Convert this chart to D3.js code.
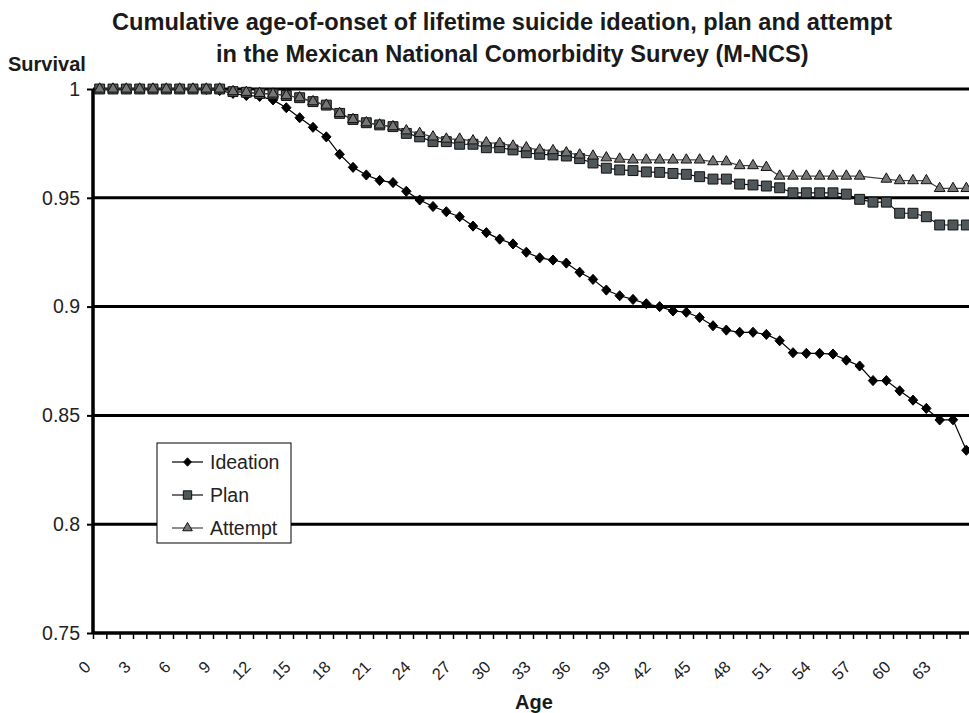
<!DOCTYPE html>
<html>
<head>
<meta charset="utf-8">
<script src="https://cdn.jsdelivr.net/npm/d3@7"></script>
<style>
  body { margin: 0; background: #fff; }
  svg { display: block; font-family: "Liberation Sans", Arial, sans-serif; }
</style>
</head>
<body>
<svg id="chart" width="969" height="713"></svg>
<script>
// ---- Data ----
const ages = [0,1,2,3,4,5,6,7,8,9,10,11,12,13,14,15,16,17,18,19,20,21,22,23,24,25,26,27,28,29,30,31,32,33,34,35,36,37,38,39,40,41,42,43,44,45,46,47,48,49,50,51,52,53,54,55,56,57,58,59,60,61,62,63,64,65];
const xTickLabels = [0,3,6,9,12,15,18,21,24,27,30,33,36,39,42,45,48,51,54,57,60,63];
const yTickValues = [0.75,0.8,0.85,0.9,0.95,1];
const ideation = [1,1,1,1,1,1,1,1,0.9998,0.9993,0.998,0.997,0.9966,0.995,0.9914,0.9868,0.9824,0.978,0.970,0.964,
  0.9605,0.958,0.957,0.953,0.949,0.946,0.9436,0.9413,0.937,0.934,0.931,0.9288,0.925,0.9224,0.9214,0.920,0.9158,0.9125,0.9076,0.905,
  0.9033,0.9013,0.900,0.898,0.8974,0.895,0.8912,0.8892,0.8882,0.8882,0.8872,0.8843,0.8788,0.8785,0.8785,0.8782,0.8754,0.8727,0.866,0.866,
  0.8613,0.857,0.8532,0.8479,0.848,0.834];
const plan = [1,1,1,1,1,1,1,1,1,1,0.9988,0.9985,0.998,0.9977,0.997,0.996,0.9942,0.9926,0.9888,0.986,
  0.9845,0.9835,0.9827,0.9796,0.978,0.9758,0.9758,0.9746,0.9746,0.973,0.973,0.972,0.9707,0.970,0.9697,0.9692,0.968,0.966,0.9636,0.9628,
  0.9625,0.9619,0.9617,0.9612,0.9608,0.9597,0.9586,0.9586,0.9563,0.9559,0.9554,0.9546,0.9523,0.9523,0.9523,0.9523,0.9517,0.9493,0.948,0.948,
  0.9429,0.9429,0.9413,0.9375,0.9375,0.9375];
const attempt = [1,1,1,1,1,1,1,1,1,1,0.9988,0.9985,0.998,0.9977,0.997,0.996,0.9942,0.9926,0.9888,0.986,
  0.9845,0.9835,0.9827,0.9808,0.9796,0.978,0.977,0.977,0.9762,0.9753,0.975,0.9738,0.973,0.972,0.9717,0.9707,0.9697,0.9692,0.9684,0.9678,
  0.9674,0.9674,0.9674,0.9674,0.9674,0.9674,0.9666,0.9666,0.9648,0.9648,0.964,0.96,0.96,0.96,0.96,0.96,0.96,0.96,null,0.9586,
  0.9579,0.9579,0.9579,0.9543,0.9543,0.9543];
const seriesNames = ["Ideation","Plan","Attempt"];
const titleLines = ["Cumulative age-of-onset of lifetime suicide ideation, plan and attempt",
                    "in the Mexican National Comorbidity Survey (M-NCS)"];

// ---- Layout ----
const svg = d3.select("#chart");
const pLeft = 93, pRight = 973, pTop = 89, pBottom = 633;
const x = d3.scaleBand().domain(ages).range([pLeft, pRight]).paddingInner(0).paddingOuter(0);
const xEdge = d3.scaleLinear().domain([0, ages.length]).range([pLeft, pRight]);
const y = d3.scaleLinear().domain([0.75, 1]).range([pBottom, pTop]);
const cx = a => x(a) + x.bandwidth() / 2;

// title
const titleX = [112, 216];
svg.append("g").selectAll("text").data(titleLines).join("text")
  .attr("x", (d, i) => titleX[i]).attr("y", (d, i) => 30 + i * 32)
  .attr("text-anchor", "start").attr("font-weight", "bold").attr("font-size", 23.6).attr("fill", "#1a1a1a")
  .text(d => d);

svg.append("text").attr("x", 8).attr("y", 71).attr("font-weight", "bold").attr("font-size", 20)
  .attr("fill", "#1a1a1a").text("Survival");

svg.append("text").attr("x", 534).attr("y", 709).attr("text-anchor", "middle").attr("font-weight", "bold")
  .attr("font-size", 20).attr("fill", "#1a1a1a").text("Age");

// gridlines
svg.append("g").selectAll("line").data(yTickValues.filter(v => v > 0.75)).join("line")
  .attr("x1", pLeft).attr("x2", 969).attr("y1", d => y(d)).attr("y2", d => y(d))
  .attr("stroke", "#000").attr("stroke-width", 3);

// y axis
const yAxis = svg.append("g").attr("transform", `translate(${pLeft},0)`)
  .call(d3.axisLeft(y).tickValues(yTickValues).tickSize(6).tickPadding(7).tickFormat(d => String(+d.toFixed(2))));
yAxis.select(".domain").attr("stroke", "#000").attr("stroke-width", 3.5).attr("d", `M0,${pBottom}V${pTop}`);
yAxis.selectAll(".tick line").attr("stroke-width", 2);
yAxis.selectAll(".tick text").attr("font-size", 19.5).attr("fill", "#222").attr("font-family", "Liberation Sans, Arial, sans-serif");

// x axis ticks (category boundaries)
const xAxisTicks = svg.append("g").attr("transform", `translate(0,${pBottom})`)
  .call(d3.axisBottom(xEdge).tickValues(d3.range(0, ages.length + 1)).tickSize(6).tickFormat(""));
xAxisTicks.select(".domain").attr("stroke", "#000").attr("stroke-width", 3.5).attr("d", `M${pLeft},0H969`);
xAxisTicks.selectAll(".tick line").attr("stroke-width", 1.5);

// x axis labels
const xAxisLabels = svg.append("g").attr("transform", `translate(0,${pBottom})`)
  .call(d3.axisBottom(x).tickValues(xTickLabels).tickSize(0));
xAxisLabels.select(".domain").remove();
xAxisLabels.selectAll(".tick text")
  .attr("y", 0).attr("dy", "0.35em")
  .attr("transform", "translate(-12,31) rotate(-45)")
  .attr("text-anchor", "end").attr("font-size", 16.5).attr("fill", "#222")
  .attr("font-family", "Liberation Sans, Arial, sans-serif");

// markers
const squareDiamond = {
  draw(ctx, size) {
    const r = Math.sqrt(size / 2);
    ctx.moveTo(0, -r * 1.08); ctx.lineTo(r, 0); ctx.lineTo(0, r * 1.08); ctx.lineTo(-r, 0); ctx.closePath();
  }
};
const diamond = d3.symbol().type(squareDiamond).size(44);
const square = d3.symbol().type(d3.symbolSquare).size(98);
const triangle = d3.symbol().type(d3.symbolTriangle).size(50);

const series = [
  {name: "Ideation", values: ideation, line: "#000", sym: diamond, fill: "#000", stroke: "#000", lsize: 30},
  {name: "Plan", values: plan, line: "#111", sym: square, fill: "#4f575b", stroke: "#111", lsize: 70},
  {name: "Attempt", values: attempt, line: "#444", sym: triangle, fill: "#767676", stroke: "#111", lsize: 40}
];

series.forEach(s => {
  const pts = ages.map((a, i) => ({a, v: s.values[i]})).filter(p => p.v != null);
  const g = svg.append("g");
  g.append("path").datum(pts)
    .attr("d", d3.line().x(p => cx(p.a)).y(p => y(p.v)))
    .attr("fill", "none").attr("stroke", s.line).attr("stroke-width", 1.2);
  const markerPath = s.sym();
  g.selectAll("path.m").data(pts).join("path").attr("class", "m")
    .attr("transform", p => `translate(${cx(p.a)},${y(p.v)})`)
    .attr("d", markerPath).attr("fill", s.fill).attr("stroke", s.stroke).attr("stroke-width", 1);
});

// legend
const lg = svg.append("g").attr("transform", "translate(157,443)");
lg.append("rect").attr("width", 134).attr("height", 100).attr("fill", "#fff").attr("stroke", "#000").attr("stroke-width", 1);
series.forEach((s, i) => {
  const yy = 19 + i * 33;
  lg.append("line").attr("x1", 15).attr("x2", 46).attr("y1", yy).attr("y2", yy).attr("stroke", s.line).attr("stroke-width", 1.2);
  lg.append("path").attr("transform", `translate(30.5,${yy})`)
    .attr("d", d3.symbol().type(s.sym.type()).size(s.lsize)())
    .attr("fill", s.fill).attr("stroke", s.stroke).attr("stroke-width", 1);
  lg.append("text").attr("x", 53).attr("y", yy).attr("dy", "0.35em").attr("font-size", 19.5).attr("fill", "#222").text(s.name);
});
</script>
</body>
</html>
